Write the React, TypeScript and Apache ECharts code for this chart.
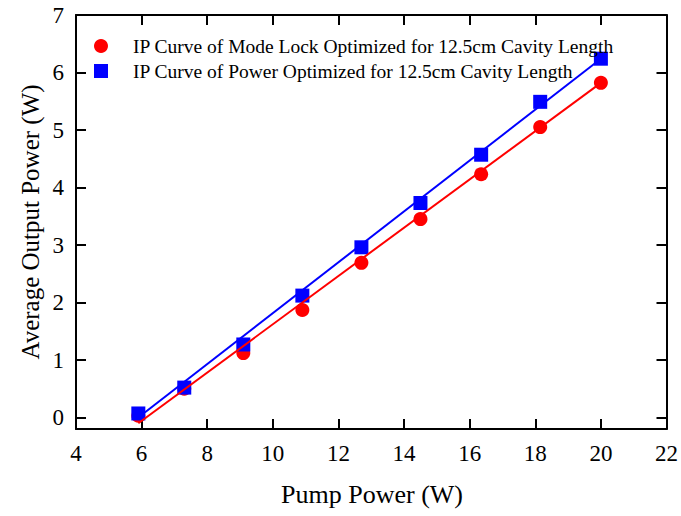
import React, { useEffect, useRef } from "react";
import * as echarts from "echarts";

const pumpPower = [5.9, 7.3, 9.1, 10.9, 12.7, 14.5, 16.35, 18.15, 20.0];
const modeLockPower = [0.03, 0.5, 1.12, 1.87, 2.69, 3.45, 4.23, 5.05, 5.82];
const powerOptPower = [0.07, 0.52, 1.27, 2.12, 2.96, 3.73, 4.57, 5.49, 6.24];
const modeLockFit = [[5.9, -0.1], [20.0, 5.82]];
const powerOptFit = [[5.9, 0.0], [20.0, 6.24]];
const yTicks = [0, 1, 2, 3, 4, 5, 6, 7];
const seriesNames = [
  "IP Curve of Mode Lock Optimized for 12.5cm Cavity Length",
  "IP Curve of Power Optimized for 12.5cm Cavity Length",
];
const xName = "Pump Power (W)";
const yName = "Average Output Power (W)";

const FONT = "'Liberation Serif', 'Times New Roman', serif";

export default function App() {
  const ref = useRef<HTMLDivElement>(null);
  useEffect(() => {
    if (!ref.current) return;
    const chart = echarts.init(ref.current, null, { renderer: "svg" });
    const axisLine = () => ({ show: true, onZero: false, lineStyle: { color: "#000", width: 2 } });
    const tick = (extra: any = {}) => ({
      show: true,
      inside: true,
      length: 10,
      lineStyle: { color: "#000", width: 2 },
      ...extra,
    });
    chart.setOption({
      animation: false,
      backgroundColor: "#fff",
      textStyle: { fontFamily: FONT },
      grid: { left: 76, top: 15, width: 591, height: 414, containLabel: false },
      legend: {
        orient: "vertical",
        left: 89,
        top: 31,
        itemWidth: 14,
        itemHeight: 14,
        itemGap: 5,
        data: [
          { name: seriesNames[0], icon: "circle" },
          { name: seriesNames[1], icon: "rect" },
        ],
        textStyle: { fontFamily: FONT, fontSize: 19.5, color: "#000", lineHeight: 20, padding: [0, 0, 0, 20] },
      },
      xAxis: [
        {
          type: "value",
          min: 4,
          max: 22,
          interval: 2,
          position: "bottom",
          axisLine: axisLine(),
          axisTick: tick(),
          splitLine: { show: false },
          axisLabel: { fontFamily: FONT, fontSize: 23, color: "#000", margin: 13, showMinLabel: true, showMaxLabel: true },
        },
        {
          type: "value",
          min: 4,
          max: 22,
          interval: 2,
          position: "top",
          axisLine: axisLine(),
          axisTick: tick(),
          splitLine: { show: false },
          axisLabel: { show: false },
        },
      ],
      yAxis: [
        {
          type: "value",
          min: -0.2,
          max: 7,
          position: "left",
          axisLine: axisLine(),
          axisTick: tick({ customValues: yTicks }),
          splitLine: { show: false },
          axisLabel: { fontFamily: FONT, fontSize: 23, color: "#000", margin: 12, customValues: yTicks },
        },
        {
          type: "value",
          min: -0.2,
          max: 7,
          position: "right",
          axisLine: axisLine(),
          axisTick: tick({ customValues: yTicks }),
          splitLine: { show: false },
          axisLabel: { show: false },
        },
      ],
      graphic: [
        {
          type: "text",
          x: 372,
          y: 494,
          style: { text: xName, font: `26px ${FONT}`, fill: "#000", textAlign: "center", textVerticalAlign: "middle" },
        },
        {
          type: "text",
          x: 30,
          y: 222,
          rotation: Math.PI / 2,
          style: { text: yName, font: `25px ${FONT}`, fill: "#000", textAlign: "center", textVerticalAlign: "middle" },
        },
      ],
      series: [
        {
          name: "fitRed",
          type: "line",
          data: modeLockFit,
          symbol: "none",
          lineStyle: { color: "#ff0000", width: 2 },
          silent: true,
        },
        {
          name: seriesNames[0],
          type: "scatter",
          data: pumpPower.map((x, i) => [x, modeLockPower[i]]),
          symbol: "circle",
          symbolSize: 14,
          itemStyle: { color: "#ff0000", opacity: 1 },
        },
        {
          name: "fitBlue",
          type: "line",
          data: powerOptFit,
          symbol: "none",
          lineStyle: { color: "#0000ff", width: 2 },
          silent: true,
        },
        {
          name: seriesNames[1],
          type: "scatter",
          data: pumpPower.map((x, i) => [x, powerOptPower[i]]),
          symbol: "rect",
          symbolSize: 14,
          itemStyle: { color: "#0000ff", opacity: 1 },
        },
      ],
    });
    return () => chart.dispose();
  }, []);
  return <div ref={ref} style={{ position: "absolute", left: 0, top: 0, width: 681, height: 516 }} />;
}
